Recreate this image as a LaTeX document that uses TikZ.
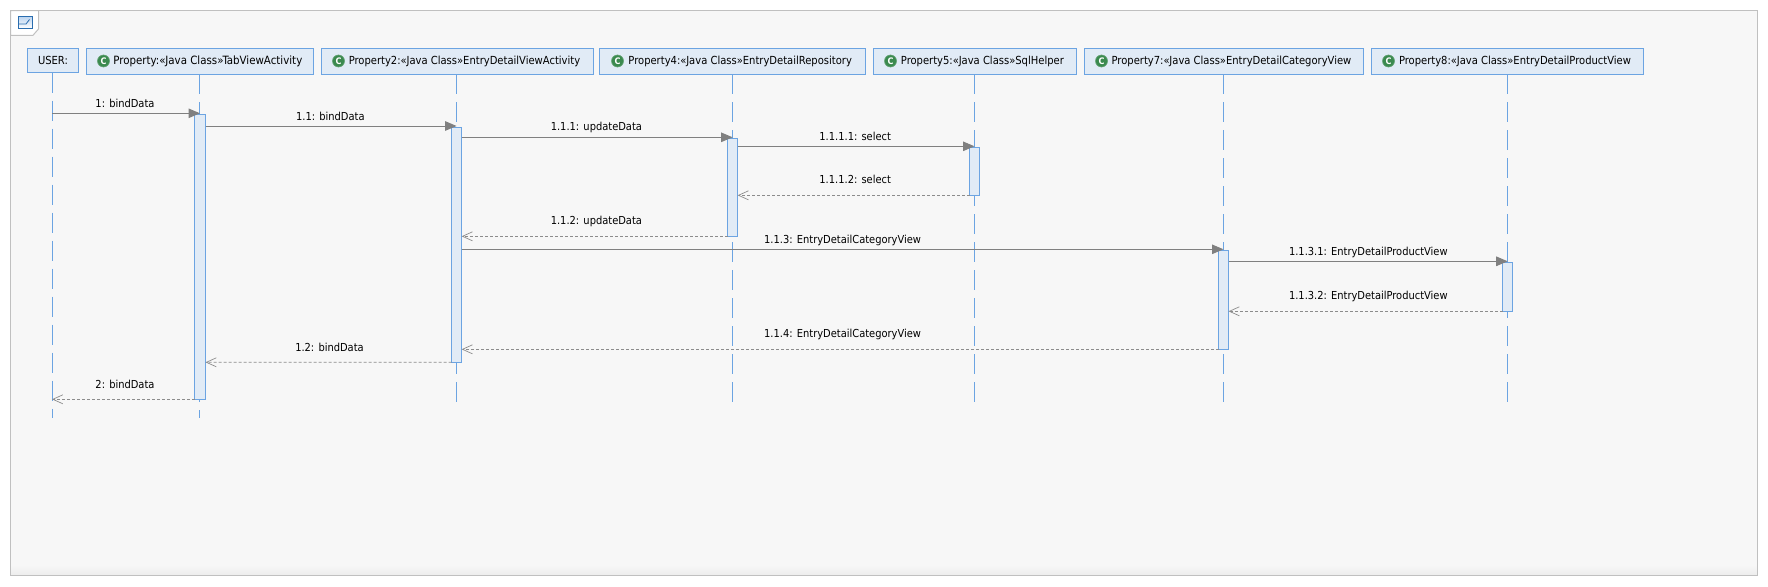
\documentclass[tikz,border=0pt]{standalone}
\usepackage{fontspec}
\setmainfont{DejaVu Sans Condensed}
\usetikzlibrary{arrows.meta}

\definecolor{panelbg}{HTML}{F7F7F7}
\definecolor{panelline}{HTML}{C0C0C0}
\definecolor{laneline}{HTML}{6CA4E2}
\definecolor{lanefill}{HTML}{E1EBF6}
\definecolor{msgline}{HTML}{808080}
\definecolor{backline}{HTML}{8C8C8C}
\definecolor{iconline}{HTML}{2A6DAF}
\definecolor{classgreen}{HTML}{3B8A4F}

\tikzset{
    lane/.style={draw=laneline, fill=lanefill, line width=1pt, outer sep=0pt, minimum height=26pt, inner xsep=0pt, inner ysep=0pt, font=\fontsize{11.1}{13}\selectfont},
    life/.style={draw=laneline, line width=1pt, dash pattern=on 20pt off 8pt},
    bar/.style={draw=laneline, fill=lanefill, line width=1pt, outer sep=0pt, anchor=north, inner sep=0pt, minimum width=10pt},
    call/.style={draw=msgline, line width=1pt, -{Triangle[length=11.5pt,width=9.5pt]}},
    back/.style={draw=backline, line width=0.8pt, dash pattern=on 3pt off 2pt, -{Straight Barb[length=10pt,width=9pt,line width=0.7pt]}},
    tag/.style={inner sep=0pt, font=\fontsize{11}{13}\selectfont},
    classicon/.style={circle, draw=classgreen!80, fill=classgreen, line width=0.6pt, minimum size=12pt, inner sep=0pt, text=white, font=\fontsize{9}{9}\bfseries\selectfont}
}

\begin{document}
\begin{tikzpicture}[x=1pt, y=-1pt]
    \fill[white] (0,0) rectangle (1768,586);

    % panel
    \fill[panelbg] (10.5,10.7) rectangle (1757,575.3);
    \shade[top color=panelbg, bottom color=black!7] (10.5,565) rectangle (1757,575.3);
    \draw[panelline, line width=1pt] (10.5,10.7) rectangle (1757,575.3);
    \filldraw[fill=white, draw=panelline, line width=1pt] (10.5,10.7) -- (38.5,10.7) -- (38.5,29) -- (33,35.3) -- (10.5,35.3) -- cycle;
    \shade[top color=lanefill!70!laneline, bottom color=white] (18.5,17) rectangle (32.7,28.5);
    \draw[iconline, line width=1pt] (18.5,17) rectangle (32.7,28.5);
    \draw[iconline, line width=0.8pt] (18.5,24) -- (26,24) -- (29.5,19.5);

    % heads
    \node[lane, minimum height=24.2pt, minimum width=51pt] (user) at (53,60.4) {USER:};
    \node[lane, minimum width=227.3pt, font=\fontsize{11.4}{13}\selectfont] (tabview) at (200.1,61.4) {\hspace{15.5pt}Property:«Java Class»TabViewActivity};
    \node[lane, minimum width=272pt] (detailview) at (457,61.4) {\hspace{15pt}Property2:«Java Class»EntryDetailViewActivity};
    \node[lane, minimum width=265.5pt] (repository) at (732.7,61.4) {\hspace{15pt}Property4:«Java Class»EntryDetailRepository};
    \node[lane, minimum width=203.8pt] (sqlhelper) at (974.9,61.4) {\hspace{15pt}Property5:«Java Class»SqlHelper};
    \node[lane, minimum width=279.2pt] (categoryview) at (1224,61.4) {\hspace{15pt}Property7:«Java Class»EntryDetailCategoryView};
    \node[lane, minimum width=272.5pt] (productview) at (1507.5,61.4) {\hspace{15pt}Property8:«Java Class»EntryDetailProductView};

    \node[classicon] (icona) at (103.5,61) {C};
    \node[classicon] (iconb) at (338.5,61) {C};
    \node[classicon] (iconc) at (617.5,61) {C};
    \node[classicon] (icond) at (890.5,61) {C};
    \node[classicon] (icone) at (1101.5,61) {C};
    \node[classicon] (iconf) at (1388.5,61) {C};

    % lifelines
    \coordinate (userend) at (52.4,418.3);
    \coordinate (tabviewend) at (199.4,418.3);
    \coordinate (detailviewend) at (456.2,402.3);
    \coordinate (repositoryend) at (732.4,402.3);
    \coordinate (sqlhelperend) at (974.6,402.3);
    \coordinate (categoryviewend) at (1223.5,402.3);
    \coordinate (productviewend) at (1507.5,402.3);

    \draw[life] (userend |- user.south) -- (userend);
    \draw[life] (tabviewend |- tabview.south) -- (tabviewend);
    \draw[life] (detailviewend |- detailview.south) -- (detailviewend);
    \draw[life] (repositoryend |- repository.south) -- (repositoryend);
    \draw[life] (sqlhelperend |- sqlhelper.south) -- (sqlhelperend);
    \draw[life] (categoryviewend |- categoryview.south) -- (categoryviewend);
    \draw[life] (productviewend |- productview.south) -- (productviewend);

    % activations
    \node[bar, minimum width=11pt, minimum height=285pt] (bara) at (200,114.3) {};
    \node[bar, minimum height=235.3pt] (barb) at (456.6,127) {};
    \node[bar, minimum height=98pt] (barc) at (732.6,138.3) {};
    \node[bar, minimum height=48pt] (bard) at (974.5,147.3) {};
    \node[bar, minimum height=99pt] (bare) at (1223.5,250.3) {};
    \node[bar, minimum height=49pt] (barf) at (1507.7,262.3) {};

    % messages
    \coordinate (userout) at (52,113.3);
    \coordinate (userin) at (52,399.3);

    \draw[call] (userout) -- ([yshift=1pt]bara.north);
    \draw[call] ([yshift=-11.7pt]bara.north east) -- ([yshift=1pt]barb.north);
    \draw[call] ([yshift=-10.3pt]barb.north east) -- ([yshift=1pt]barc.north);
    \draw[call] ([yshift=-8pt]barc.north east) -- ([yshift=1pt]bard.north);
    \draw[back] (bard.south west) -- ([yshift=-57pt]barc.north east);
    \draw[back] (barc.south west) -- ([yshift=-109.3pt]barb.north east);
    \draw[call] ([yshift=-122.3pt]barb.north east) -- ([yshift=1pt]bare.north);
    \draw[call] ([yshift=-11pt]bare.north east) -- ([yshift=1pt]barf.north);
    \draw[back] (barf.south west) -- ([yshift=-61pt]bare.north east);
    \draw[back] (bare.south west) -- ([yshift=-222.3pt]barb.north east);
    \draw[back] (barb.south west) -- ([yshift=-248pt]bara.north east);
    \draw[back] (bara.south west) -- (userin);

    % labels
    \node[tag] (m1) at (125,103.3) {1: bindData};
    \node[tag] (m11) at (330.4,116.3) {1.1: bindData};
    \node[tag] (m111) at (596.4,127.3) {1.1.1: updateData};
    \node[tag] (m1111) at (855.2,136.3) {1.1.1.1: select};
    \node[tag] (m1112) at (855.2,179.3) {1.1.1.2: select};
    \node[tag] (m112) at (596.4,221.3) {1.1.2: updateData};
    \node[tag] (m113) at (842.6,240.3) {1.1.3: EntryDetailCategoryView};
    \node[tag] (m1131) at (1368.3,252.3) {1.1.3.1: EntryDetailProductView};
    \node[tag] (m1132) at (1368.3,296.3) {1.1.3.2: EntryDetailProductView};
    \node[tag] (m114) at (842.6,334.3) {1.1.4: EntryDetailCategoryView};
    \node[tag] (m12) at (329.5,347.3) {1.2: bindData};
    \node[tag] (m2) at (125,384) {2: bindData};
\end{tikzpicture}
\end{document}
